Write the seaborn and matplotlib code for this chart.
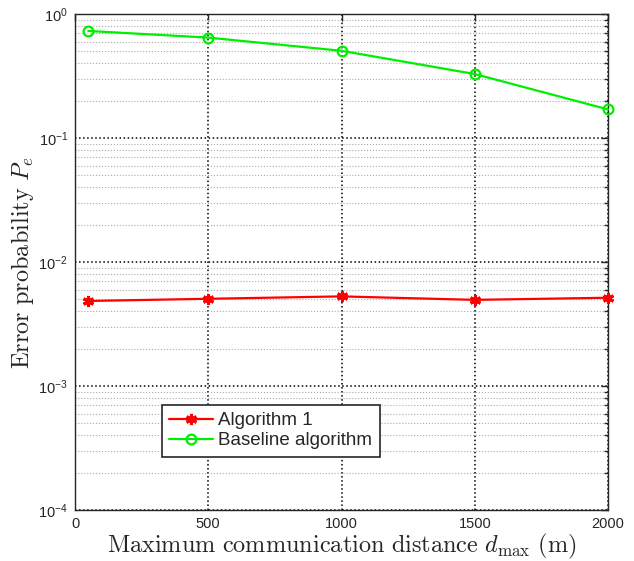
import numpy as np
import pandas as pd
import seaborn as sns
import matplotlib
matplotlib.use("Agg")
import matplotlib.pyplot as plt
from matplotlib.ticker import LogLocator, NullFormatter, FixedLocator

distance = [50, 500, 1000, 1500, 2000]
algorithm1 = [0.00485, 0.00505, 0.00528, 0.00495, 0.00515]
baseline = [0.73, 0.645, 0.505, 0.328, 0.170]
series_names = ["Algorithm 1", "Baseline algorithm"]
x_ticks = [0, 500, 1000, 1500, 2000]

sns.set_style("white")
plt.rcParams['font.family'] = ['Liberation Sans', 'DejaVu Sans']
plt.rcParams['mathtext.fontset'] = 'cm'

df = pd.DataFrame({
    "d": distance * 2,
    "pe": algorithm1 + baseline,
    "series": [series_names[0]] * len(distance) + [series_names[1]] * len(distance),
})

fig = plt.figure(figsize=(6.34, 5.61), dpi=100)
ax = fig.add_axes([75/634, 51/561, 533/634, 496/561])

sub1 = df[df.series == series_names[0]]
sub2 = df[df.series == series_names[1]]
sns.lineplot(data=sub1, x="d", y="pe", ax=ax, color="#ff0000", marker=(6, 2, 0),
             markersize=8, markeredgecolor="#ff0000", markeredgewidth=2.2, linewidth=1.6,
             label=series_names[0])
sns.lineplot(data=sub2, x="d", y="pe", ax=ax, color="#00ee00", marker="o",
             markersize=7, markerfacecolor="none", markeredgecolor="#00ee00",
             markeredgewidth=1.6, linewidth=1.6, label=series_names[1])
for ln in ax.lines:
    ln.set_clip_on(False)
    ln.set_zorder(5)

ax.set_yscale("log")
ax.set_xlim(0, 2000)
ax.set_ylim(1e-4, 1)
ax.xaxis.set_major_locator(FixedLocator(x_ticks))
ax.yaxis.set_major_locator(LogLocator(base=10, numticks=10))
ax.yaxis.set_minor_locator(LogLocator(base=10, subs=np.arange(2, 10), numticks=20))
ax.yaxis.set_minor_formatter(NullFormatter())

ax.grid(True, which="major", color="black", linestyle=":", linewidth=1.1)
ax.grid(True, which="minor", axis="y", color="#aaaaaa", linestyle=":", linewidth=0.8)

for s in ax.spines.values():
    s.set_visible(True)
    s.set_color("#262626")
    s.set_linewidth(1.0)
ax.tick_params(which="both", direction="in", top=True, right=True, colors="#262626",
               labelcolor="#262626", labelsize=10.5)
ax.tick_params(which="major", length=5, width=1, pad=5)
ax.tick_params(which="minor", length=3, width=1)

ax.set_xlabel(r"$\mathrm{Maximum\ communication\ distance}\ d_{\mathrm{max}}\ \mathrm{(m)}$",
              fontsize=17.5, color="#262626", labelpad=1)
ax.set_ylabel(r"$\mathrm{Error\ probability}\ P_e$",
              fontsize=17.5, color="#262626", labelpad=2)

leg = ax.legend(loc="lower left", bbox_to_anchor=(0.163, 0.107), fontsize=13.5,
                frameon=True, fancybox=False, edgecolor="#262626", borderaxespad=0,
                borderpad=0.4, labelspacing=0.15, handlelength=2.3, handletextpad=0.3)
leg.get_frame().set_linewidth(1.2)
leg.get_frame().set_alpha(1)
leg.set_zorder(10)

fig.savefig("out.png", dpi=100)
